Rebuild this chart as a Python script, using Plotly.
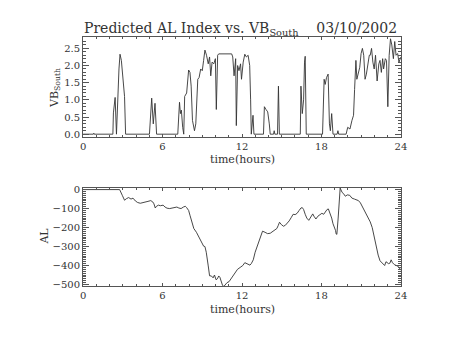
import plotly.graph_objects as go

# Solar-wind driver VB_South (mV/m) vs. time of day
vb_time = [0.0, 0.78, 0.81, 0.84, 2.25, 2.29, 2.42, 2.52, 2.71, 2.79, 2.89, 2.98, 3.13, 3.21,
           5.01, 5.18, 5.30, 5.43, 5.55,
           7.15, 7.28, 7.35, 7.42, 7.52, 7.60, 7.67, 7.82, 7.97, 8.07, 8.16, 8.26, 8.41, 8.51,
           8.66, 8.76, 8.88, 9.00, 9.10, 9.20, 9.32, 9.45, 9.55, 9.64, 9.74, 9.87, 9.99, 10.06,
           10.16, 10.24, 11.22, 11.30, 11.40, 11.52, 11.57, 11.67, 11.77, 11.89, 11.96, 12.09,
           12.21, 12.33, 12.46, 12.58, 12.65, 12.70, 12.83, 12.90,
           13.62, 13.69, 13.81, 13.94, 14.06, 14.13, 14.38, 14.43, 14.48, 14.68, 14.75, 14.82,
           16.40, 16.45, 16.55, 16.65, 16.72, 16.77, 16.85,
           18.08, 18.20, 18.28, 18.38, 18.50, 18.60, 18.67, 18.77, 18.87,
           19.18, 19.24, 19.30, 19.86, 19.98, 20.15, 20.30, 20.42, 20.50, 20.60, 20.67, 20.77,
           20.89, 20.99, 21.09, 21.19, 21.29, 21.39, 21.51, 21.61, 21.68, 21.78, 21.88, 21.98,
           22.08, 22.20, 22.33, 22.42, 22.52, 22.62, 22.69, 22.82, 22.91, 23.01, 23.11, 23.21,
           23.31, 23.43, 23.53, 23.63, 23.75, 23.85, 24.0]
vb_south = [0.0, 0.0, 0.03, 0.0, 0.0, 0.62, 1.07, 0.0, 1.9, 2.33, 2.15, 1.66, 1.1, 0.0,
            0.0, 1.05, 0.3, 0.9, 0.0,
            0.0, 0.93, 0.6, 0.7, 0.2, 0.0, 1.1, 1.2, 1.87, 1.8, 1.4, 0.4, 0.1, 0.3,
            1.6, 1.65, 1.9, 1.85, 2.15, 2.45, 2.3, 2.05, 2.25, 1.7, 2.1, 2.05, 2.2, 0.72,
            2.3, 2.34, 2.34, 2.25, 1.7, 2.2, 0.25, 2.0, 1.85, 2.05, 1.6, 2.1,
            2.33, 2.25, 2.3, 2.0, 1.0, 0.0, 0.55, 0.0,
            0.0, 0.8, 0.72, 0.65, 0.3, 0.0, 0.0, 0.1, 0.0, 0.0, 1.4, 0.0,
            0.0, 1.4, 0.6, 1.0, 2.1, 2.27, 0.0,
            0.0, 1.6, 1.45, 1.65, 1.75, 0.3, 0.1, 0.6, 0.0,
            0.0, 0.1, 0.0, 0.0, 0.2, 0.15, 0.4, 0.55, 1.3, 2.15, 1.6, 1.8,
            1.95, 2.35, 2.5, 2.3, 1.6, 1.75, 2.05, 2.3, 2.3, 2.5, 2.1, 1.9,
            2.3, 1.55, 2.05, 2.15, 1.8, 2.2, 1.9, 2.2, 2.15, 0.8, 2.3, 2.78,
            2.6, 2.2, 2.7, 2.3, 2.35, 2.1, 2.25]

# Predicted AL index (nT) vs. time of day
al_time = [0.0, 2.76, 2.96, 3.13, 3.27, 3.44, 3.62, 3.77, 3.95, 4.12, 4.32, 4.51, 4.70, 4.90,
           5.11, 5.26, 5.35, 5.45, 5.54, 5.69, 5.84, 6.04, 6.19, 6.34, 6.54, 6.73, 6.91, 7.08,
           7.23, 7.40, 7.57, 7.72, 7.82, 7.97, 8.07, 8.21, 8.36, 8.56, 8.76, 8.95, 9.10, 9.20,
           9.30, 9.45, 9.55, 9.69, 9.82, 9.92, 10.04, 10.14, 10.24, 10.33, 10.43, 10.53, 10.63,
           10.73, 10.87, 11.02, 11.17, 11.31, 11.46, 11.66, 11.86, 12.06, 12.21, 12.36, 12.50,
           12.60, 12.70, 12.85, 12.99, 13.09, 13.24, 13.39, 13.55, 13.74, 13.93, 14.13, 14.31,
           14.48, 14.63, 14.73, 14.83, 14.98, 15.13, 15.27, 15.42, 15.56, 15.71, 15.86, 16.01,
           16.16, 16.31, 16.45, 16.55, 16.65, 16.77, 16.89, 17.04, 17.14, 17.24, 17.34, 17.43,
           17.58, 17.73, 17.88, 18.03, 18.17, 18.27, 18.42, 18.52, 18.62, 18.77, 18.87, 19.01,
           19.06, 19.11, 19.16, 19.26, 19.41, 19.56, 19.65, 19.80, 19.95, 20.13, 20.30, 20.49,
           20.64, 20.79, 20.94, 21.09, 21.24, 21.38, 21.53, 21.68, 21.83, 21.98, 22.13, 22.28,
           22.42, 22.57, 22.67, 22.77, 22.87, 22.96, 23.06, 23.16, 23.26, 23.36, 23.50, 23.65,
           23.80, 24.0]
al_index = [0, 0, -30, -56, -48, -42, -50, -45, -60, -68, -72, -70, -68, -62,
            -58, -65, -75, -97, -88, -82, -85, -82, -92, -98, -100, -97, -95, -92,
            -97, -100, -92, -88, -95, -110, -135, -165, -205, -225, -250, -280, -298, -300,
            -330, -402, -454, -455, -465, -450, -475, -470, -455, -462, -490, -505, -510,
            -500, -490, -485, -470, -455, -440, -420, -410, -400, -385, -390, -395,
            -398, -390, -370, -330, -310, -290, -250, -219, -225, -232, -230, -220,
            -210, -205, -190, -172, -185, -193, -188, -178, -165, -148, -130, -132,
            -125, -110, -97, -95, -105, -130, -150, -162, -148, -140, -128, -140,
            -155, -140, -130, -125, -130, -118, -105, -102, -120, -150, -180, -200,
            -215, -234, -236, -150, 8, -15, -20, -35, -28, -30, -45, -50,
            -55, -58, -70, -90, -110, -130, -150, -170, -200, -250, -300, -345,
            -375, -385, -395, -400, -380, -385, -390, -388, -370, -385, -395, -400,
            -405, -425]

time_ticks = [0, 6, 12, 18, 24]

INK = "#333333"
FRAME = "#555555"
FONT = "DejaVu Serif"

fig = go.Figure()
fig.add_trace(go.Scatter(x=vb_time, y=vb_south, mode="lines",
                         line=dict(color=INK, width=0.9), xaxis="x", yaxis="y",
                         showlegend=False, hoverinfo="skip"))
fig.add_trace(go.Scatter(x=al_time, y=al_index, mode="lines",
                         line=dict(color=INK, width=0.9), xaxis="x2", yaxis="y2",
                         showlegend=False, hoverinfo="skip"))

xcommon = dict(range=[0, 24], tickmode="array", tickvals=time_ticks,
               ticktext=[str(v) for v in time_ticks], ticks="inside", ticklen=3,
               tickcolor=FRAME, showline=True, linecolor=FRAME, linewidth=1,
               mirror="ticks", showgrid=False, zeroline=False,
               minor=dict(dtick=1, tick0=0, ticks="inside", ticklen=2, tickcolor=FRAME,
                          showgrid=False),
               tickfont=dict(family=FONT, size=10, color=INK))
ycommon = dict(ticks="inside", ticklen=6, tickcolor=FRAME, showline=True,
               linecolor=FRAME, linewidth=1, mirror="ticks", showgrid=False,
               zeroline=False, tickfont=dict(family=FONT, size=10, color=INK))

dom_x = [81.7 / 454, 406 / 454]
fig.update_layout(
    width=454, height=341, margin=dict(l=0, r=0, t=0, b=0),
    paper_bgcolor="white", plot_bgcolor="white",
    xaxis=dict(domain=dom_x, anchor="y", **xcommon),
    yaxis=dict(domain=[1 - 136 / 341, 1 - 34 / 341], anchor="x",
               range=[-0.077, 2.826], tickmode="linear", tick0=0, dtick=0.5,
               tickformat=".1f",
               minor=dict(dtick=0.1, tick0=0, ticks="inside", ticklen=3,
                          tickcolor=FRAME, showgrid=False),
               **ycommon),
    xaxis2=dict(domain=dom_x, anchor="y2", **xcommon),
    yaxis2=dict(domain=[1 - 289 / 341, 1 - 188.3 / 341], anchor="x2",
                range=[-509, 9], tickmode="linear", tick0=0, dtick=100,
                minor=dict(dtick=10, tick0=0, ticks="inside", ticklen=3,
                           tickcolor=FRAME, showgrid=False),
                **ycommon),
)

def label(text, x, y, size=11, angle=0):
    fig.add_annotation(text=text, x=x / 454, y=1 - y / 341, xref="paper", yref="paper",
                       showarrow=False, textangle=angle, xanchor="center", yanchor="middle",
                       font=dict(family=FONT, size=size, color=INK))

label("Predicted AL Index vs. VB<sub>South</sub>\u00a0\u00a0\u00a0\u00a003/10/2002",
      242, 26, size=14)
label("time(hours)", 244, 159)
label("time(hours)", 244, 312.5)
label("VB<sub>South</sub>", 53, 86, angle=-90)
label("AL", 42, 238, angle=-90)

fig.write_html("out.html")
